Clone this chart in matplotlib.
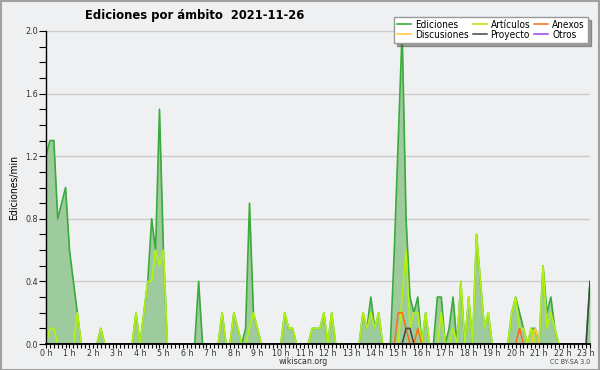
import numpy as np
import matplotlib
matplotlib.use("Agg")
import matplotlib.pyplot as plt
from matplotlib.patches import Rectangle

# edits per minute, one value per 10-minute bin (00:00 .. 23:10)
ediciones = [
    1.2, 1.3, 1.3, 0.8, 0.9, 1.0, 0.6, 0.4, 0.2, 0, 0, 0,
    0, 0, 0.1, 0, 0, 0, 0, 0, 0, 0, 0, 0.2,
    0, 0.2, 0.4, 0.8, 0.6, 1.5, 0.6, 0, 0, 0, 0, 0,
    0, 0, 0, 0.4, 0, 0, 0, 0, 0, 0.2, 0, 0,
    0.2, 0.1, 0, 0.1, 0.9, 0.2, 0.1, 0, 0, 0, 0, 0,
    0, 0.2, 0.1, 0.1, 0, 0, 0, 0, 0.1, 0.1, 0.1, 0.2,
    0, 0.2, 0, 0, 0, 0, 0, 0, 0, 0.2, 0.1, 0.3,
    0.1, 0.2, 0, 0, 0, 0.6, 1.3, 2.0, 0.8, 0.3, 0.2, 0.3,
    0, 0.2, 0, 0, 0.3, 0.3, 0, 0.1, 0.3, 0, 0.4, 0,
    0.3, 0, 0.7, 0.4, 0.1, 0.2, 0, 0, 0, 0, 0, 0.2,
    0.3, 0.2, 0.1, 0, 0.1, 0.1, 0, 0.5, 0.2, 0.3, 0.1, 0,
    0, 0, 0, 0, 0, 0, 0, 0.4,
]
articulos = [
    0, 0.1, 0.1, 0, 0, 0, 0, 0, 0.2, 0, 0, 0,
    0, 0, 0.1, 0, 0, 0, 0, 0, 0, 0, 0, 0.2,
    0, 0.2, 0.4, 0.4, 0.6, 0.5, 0.6, 0, 0, 0, 0, 0,
    0, 0, 0, 0, 0, 0, 0, 0, 0, 0.2, 0, 0,
    0.2, 0.1, 0, 0, 0.1, 0.2, 0.1, 0, 0, 0, 0, 0,
    0, 0.2, 0.1, 0.1, 0, 0, 0, 0, 0.1, 0.1, 0.1, 0.2,
    0, 0.2, 0, 0, 0, 0, 0, 0, 0, 0.2, 0.1, 0.2,
    0.1, 0.2, 0, 0, 0, 0, 0, 0.3, 0.6, 0.1, 0.2, 0.2,
    0, 0.2, 0, 0, 0, 0.2, 0, 0, 0.1, 0, 0.4, 0,
    0.3, 0, 0.7, 0.4, 0.1, 0.2, 0, 0, 0, 0, 0, 0.2,
    0.3, 0.1, 0.1, 0, 0.1, 0, 0, 0.5, 0.1, 0.2, 0.1, 0,
    0, 0, 0, 0, 0, 0, 0, 0,
]
n = len(ediciones)
anexos = [0.0] * n
anexos[90] = 0.2
anexos[91] = 0.2
anexos[92] = 0.1
anexos[95] = 0.1
anexos[121] = 0.1
discusiones = [0.0] * n
discusiones[125] = 0.1
proyecto = [0.0] * n
proyecto[92] = 0.1
proyecto[93] = 0.1
proyecto[139] = 0.4
otros = [0.0] * n

hour_labels = [f"{h} h" for h in range(24)]

plt.rcParams["font.stretch"] = "condensed"

bg = "#eef0f1"
fig = plt.figure(figsize=(6, 3.7), dpi=100, facecolor=bg)
ax = fig.add_axes([46/600, 1 - 344/370, 544/600, 313/370])
ax.set_facecolor(bg)

x = np.arange(n)
ax.fill_between(x, ediciones, 0, color="#9ecb9e", lw=0, zorder=1)
l_ed, = ax.plot(x, ediciones, color="#3aaa3a", lw=1.2, zorder=2, label="Ediciones")
l_art, = ax.plot(x, articulos, color="#b4f010", lw=1.2, zorder=2.1, label="Artículos")
l_anx, = ax.plot(x, anexos, color="#ff6a1a", lw=1.1, zorder=2.2, label="Anexos")
l_dis, = ax.plot(x, discusiones, color="#ffc830", lw=1.1, zorder=2.2, label="Discusiones")
l_pro, = ax.plot(x, proyecto, color="#404840", lw=1.1, zorder=2.3, label="Proyecto")
l_otr, = ax.plot(x, otros, color="#9944ee", lw=1.1, zorder=2.0, label="Otros")

ax.set_xlim(0, n - 1)
ax.set_ylim(0, 2.0)
ax.set_yticks(np.arange(0, 2.01, 0.4))
ax.set_yticklabels([f"{v:.1f}" for v in np.arange(0, 2.01, 0.4)])
ax.set_yticks(np.arange(0, 2.01, 0.1), minor=True)
ax.set_xticks(np.arange(0, n, 6))
ax.set_xticklabels(hour_labels)
ax.set_xticks(np.arange(0, n), minor=True)
ax.tick_params(axis="y", which="both", length=5, width=0.8, labelsize=6.5,
               labelcolor="#333333", pad=1)
ax.tick_params(axis="x", which="both", length=3, width=0.8, labelsize=6.3,
               labelcolor="#333333", pad=0.5)
ax.yaxis.grid(True, which="major", color="#cccccc", lw=1)
ax.set_axisbelow(True)
for s in ["top", "right"]:
    ax.spines[s].set_visible(False)
ax.spines["left"].set_linewidth(1.0)
ax.spines["bottom"].set_linewidth(1.3)

ax.set_ylabel("Ediciones/min", fontsize=7.5, labelpad=4)

fig.text(85/600, 1 - 15/370, "Ediciones por ámbito  2021-11-26", fontsize=9.3,
         fontweight="bold", va="center", ha="left")
fig.text(303/600, 1 - 362/370, "wikiscan.org", fontsize=6.3, ha="center", va="center",
         color="#333333")
fig.text(590/600, 1 - 362/370, "CC BY-SA 3.0", fontsize=5, ha="right", va="center",
         color="#444444")

leg = ax.legend(handles=[l_ed, l_dis, l_art, l_pro, l_anx, l_otr], ncol=3,
                loc="upper right", bbox_to_anchor=(0.988, 0.968),
                bbox_transform=fig.transFigure, fontsize=7.2, frameon=True,
                fancybox=False, shadow=True, handlelength=1.4, handletextpad=0.4,
                columnspacing=0.4, labelspacing=0.0, borderpad=0.3)
leg.get_frame().set_edgecolor("#999999")
leg.get_frame().set_facecolor("white")

fig.add_artist(Rectangle((0.001, 0.001), 0.997, 0.997, transform=fig.transFigure,
                         fill=False, edgecolor="#a0a0a0", lw=1.5))

fig.savefig("out.png", dpi=100, facecolor=bg)
